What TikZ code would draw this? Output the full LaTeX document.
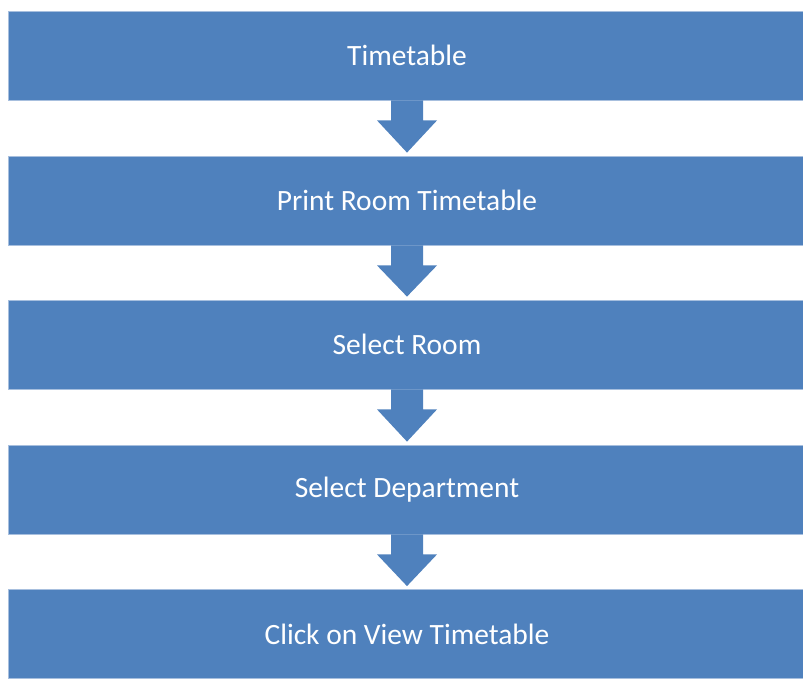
\documentclass[tikz,border=0pt]{standalone}
\usepackage{fontspec}
\setmainfont{Carlito}
\usetikzlibrary{calc}
\definecolor{boxblue}{HTML}{4F81BD}
\definecolor{edgeblue}{HTML}{A7BFDE}
\tikzset{
  stepbox/.style={rectangle, fill=boxblue, draw=edgeblue, line width=0.6pt, text=white,
    minimum width=598.5pt, minimum height=66.75pt, inner sep=0pt,
    font=\fontsize{22.1pt}{26pt}\selectfont},
  flowarrow/.style={fill=boxblue}
}
\begin{document}
\begin{tikzpicture}[x=0.75pt,y=-0.75pt]
\useasboundingbox (0,0) rectangle (803,686);
\node[stepbox] (b1) at (407,55.5) {Timetable};
\node[stepbox] (b2) at (407,200.5) {Print Room Timetable};
\node[stepbox] (b3) at (407,344.5) {Select Room};
\node[stepbox] (b4) at (407,489.5) {Select Department};
\node[stepbox] (b5) at (407,634) {Click on View Timetable};
\foreach \a/\b in {b1/b2,b2/b3,b3/b4,b4/b5}{
  \fill[flowarrow] ([xshift=-12pt]\a.south) -- ([xshift=-12pt,yshift=-15pt]\a.south)
    -- ([xshift=-22.5pt,yshift=-15pt]\a.south) -- ([yshift=2.25pt]\b.north)
    -- ([xshift=22.5pt,yshift=-15pt]\a.south) -- ([xshift=12pt,yshift=-15pt]\a.south)
    -- ([xshift=12pt]\a.south) -- cycle;
}
\end{tikzpicture}
\end{document}
